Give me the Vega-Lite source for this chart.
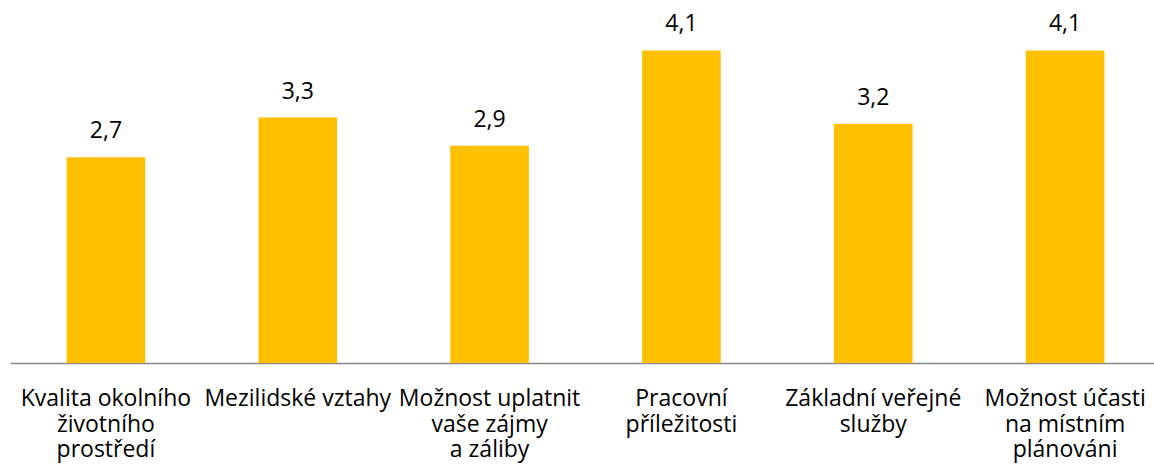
{
  "$schema": "https://vega.github.io/schema/vega-lite/v6.json",
  "width": 1144,
  "height": 343,
  "padding": {"left": 10, "top": 20, "right": 0, "bottom": 112},
  "autosize": {"type": "none"},
  "background": "white",
  "config": {"view": {"stroke": null}, "font": "Open Sans"},
  "data": {"values": [
    {"cat": "Kvalita okolního životního prostředí", "lines": ["Kvalita okolního", "životního", "prostředí"], "value": 2.7, "label": "2,7"},
    {"cat": "Mezilidské vztahy", "lines": ["Mezilidské vztahy"], "value": 3.22, "label": "3,3"},
    {"cat": "Možnost uplatnit vaše zájmy a záliby", "lines": ["Možnost uplatnit", "vaše zájmy", "a záliby"], "value": 2.85, "label": "2,9"},
    {"cat": "Pracovní příležitosti", "lines": ["Pracovní", "příležitosti"], "value": 4.1, "label": "4,1"},
    {"cat": "Základní veřejné služby", "lines": ["Základní veřejné", "služby"], "value": 3.14, "label": "3,2"},
    {"cat": "Možnost účasti na místním plánováni", "lines": ["Možnost účasti", "na místním", "plánováni"], "value": 4.1, "label": "4,1"}
  ]},
  "encoding": {
    "x": {"field": "cat", "type": "nominal", "sort": null,
      "scale": {"paddingInner": 0.59, "paddingOuter": 0.295, "range": [0, 1151]},
      "axis": {"title": null, "labels": false, "ticks": false, "domainColor": "#898989", "domainWidth": 1.5}},
    "y": {"field": "value", "type": "quantitative", "scale": {"domain": [0, 4.5]}, "axis": null}
  },
  "layer": [
    {"mark": {"type": "bar", "color": "#FFC000"}},
    {"mark": {"type": "text", "dy": -19, "baseline": "alphabetic", "fontSize": 23, "color": "#000000", "font": "Open Sans"},
     "encoding": {"text": {"field": "label"}}},
    {"mark": {"type": "text", "dy": 43, "baseline": "alphabetic", "align": "center", "lineHeight": 25.5, "fontSize": 23, "color": "#000000", "font": "Open Sans"},
     "encoding": {"y": {"datum": 0}, "text": {"field": "lines"}}}
  ]
}
